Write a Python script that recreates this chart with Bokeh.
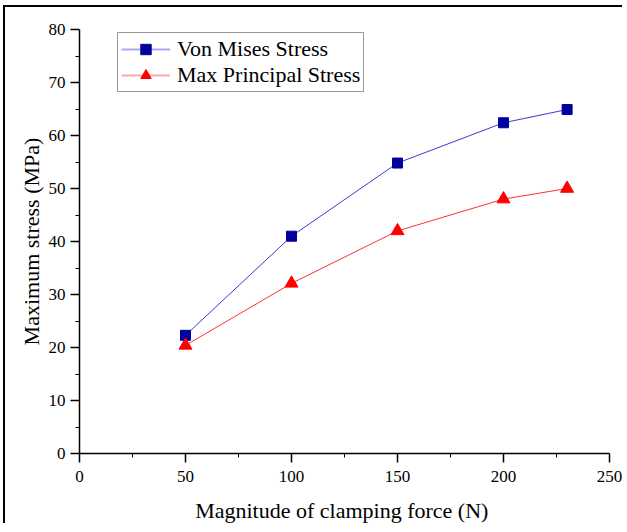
from bokeh.plotting import figure
from bokeh.models import FixedTicker, Range1d, Legend, LegendItem
from bokeh.embed import file_html
from bokeh.resources import INLINE

force = [50, 100, 150, 200, 230]
von_mises = [22.3, 41.0, 54.8, 62.4, 64.9]
max_principal = [20.4, 32.1, 42.0, 48.0, 50.0]
x_ticks = [0, 50, 100, 150, 200, 250]
x_minor = [25, 75, 125, 175, 225]
y_ticks = [0, 10, 20, 30, 40, 50, 60, 70, 80]
y_minor = [5, 15, 25, 35, 45, 55, 65, 75]
offscreen = [-1000, -999]

FONT = "Liberation Serif"

p = figure(width=619, height=518, output_backend="svg", toolbar_location=None,
           x_range=Range1d(0, 250), y_range=Range1d(0, 80),
           min_border_left=74, min_border_right=15, min_border_top=22, min_border_bottom=71)
p.styles = {"margin-left": "5px", "margin-top": "7px",
            "box-shadow": "-2px -2px 0px 0px black"}
p.outline_line_color = None
p.xgrid.visible = False
p.ygrid.visible = False
p.background_fill_color = "white"
p.border_fill_color = "white"

p.xaxis.ticker = FixedTicker(ticks=x_ticks, minor_ticks=x_minor)
p.yaxis.ticker = FixedTicker(ticks=y_ticks, minor_ticks=y_minor)
for ax in (p.xaxis, p.yaxis):
    ax.axis_line_width = 1.5
    ax.axis_line_color = "black"
    ax.major_tick_line_color = "black"
    ax.major_tick_line_width = 1.5
    ax.minor_tick_line_color = "black"
    ax.minor_tick_line_width = 1
    ax.major_tick_in = 0
    ax.major_tick_out = 9
    ax.minor_tick_in = 0
    ax.minor_tick_out = 4
    ax.major_label_text_font = FONT
    ax.major_label_text_font_size = "17px"
    ax.major_label_text_color = "black"
    ax.axis_label_text_font = FONT
    ax.axis_label_text_font_size = "22px"
    ax.axis_label_text_font_style = "normal"
    ax.axis_label_text_color = "black"
p.xaxis.axis_label = "Magnitude of clamping  force (N)"
p.yaxis.axis_label = "Maximum stress (MPa)"
p.xaxis.major_label_standoff = 8
p.yaxis.major_label_standoff = 5
p.xaxis.axis_label_standoff = 13
p.yaxis.axis_label_standoff = 2

l1 = p.line(force, von_mises, line_color="#3a3ad0", line_width=1)
m1 = p.scatter(force, von_mises, marker="square", size=10, fill_color="#00009c",
               line_color="#00009c")
l2 = p.line(force, max_principal, line_color="#ff3030", line_width=1)
m2 = p.scatter(force, max_principal, marker="triangle", size=13, fill_color="#ff0000",
               line_color="#ff0000")

# legend-only glyphs (lighter sample lines, smaller markers), placed outside the ranges
lg1 = p.line(x=offscreen, y=offscreen, line_color="#a9a9ee", line_width=2)
lm1 = p.scatter(x=offscreen, y=offscreen, marker="square", size=8,
                fill_color="#00009c", line_color="#00009c")
lg2 = p.line(x=offscreen, y=offscreen, line_color="#ffaaaa", line_width=2)
lm2 = p.scatter(x=offscreen, y=offscreen, marker="triangle", size=11,
                fill_color="#ff0000", line_color="#ff0000")

legend = Legend(items=[LegendItem(label="Von Mises Stress", renderers=[lg1, lm1]),
                       LegendItem(label="Max Principal Stress", renderers=[lg2, lm2])],
                location=(38, 361))
legend.label_text_font = FONT
legend.label_text_font_size = "22px"
legend.label_text_color = "black"
legend.border_line_color = "#333333"
legend.border_line_width = 1
legend.background_fill_alpha = 1
legend.glyph_width = 49
legend.glyph_height = 26
legend.label_height = 26
legend.padding = 3
legend.spacing = 0
legend.margin = 0
legend.label_standoff = 7
p.add_layout(legend)

open("out.html", "w").write(file_html(p, INLINE))
